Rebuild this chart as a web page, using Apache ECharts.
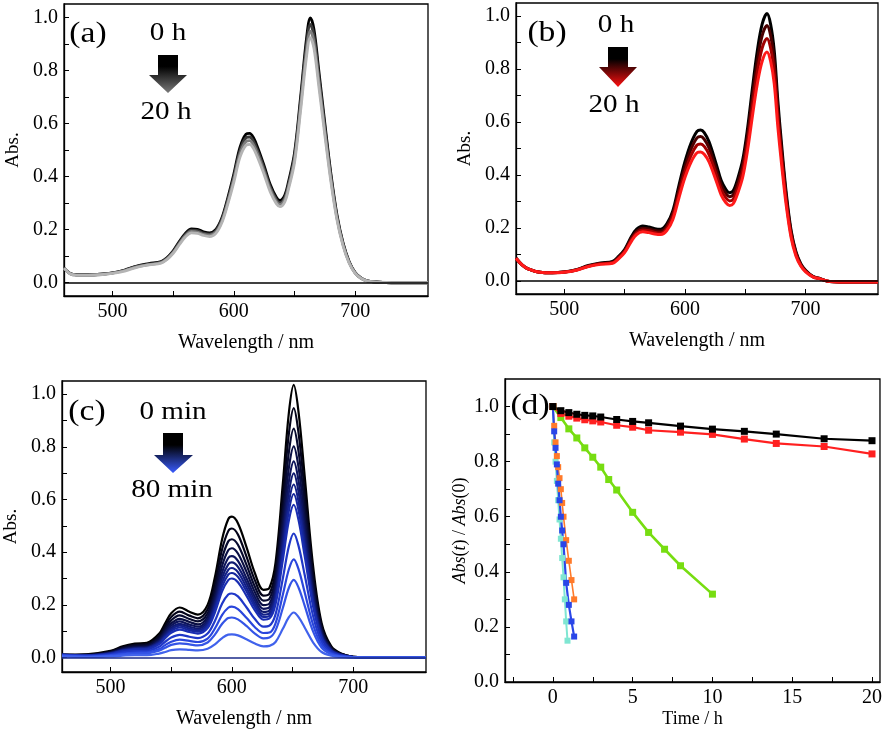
<!DOCTYPE html>
<html>
<head>
<meta charset="utf-8">
<script src="https://cdn.jsdelivr.net/npm/echarts@6/dist/echarts.min.js"></script>
<style>html,body{margin:0;padding:0;background:#fff;}#chart{width:885px;height:734px;}</style>
</head>
<body>
<div id="chart"></div>
<script>
// ---------- Panel (a) ----------
const lambdaA = [460,465,470,480,490,500,510,520,530,540,545,550,555,560,565,570,575,580,585,590,595,600,605,610,613,616,620,625,630,635,638,642,645,650,655,660,663,666,670,675,680,685,690,695,700,705,710,720,730,760];
const absA_0h = [0.055,0.035,0.03,0.03,0.032,0.037,0.048,0.063,0.072,0.08,0.095,0.12,0.155,0.186,0.203,0.201,0.192,0.188,0.2,0.243,0.32,0.41,0.51,0.56,0.563,0.548,0.505,0.44,0.37,0.322,0.31,0.33,0.38,0.49,0.70,0.925,0.998,0.955,0.80,0.60,0.41,0.255,0.15,0.08,0.038,0.017,0.007,0.002,0,0];
const absA_t1 = [0.055,0.035,0.03,0.03,0.032,0.037,0.047,0.062,0.07,0.078,0.093,0.117,0.151,0.181,0.198,0.196,0.187,0.183,0.195,0.237,0.312,0.4,0.497,0.546,0.549,0.534,0.492,0.429,0.361,0.314,0.302,0.322,0.37,0.478,0.683,0.902,0.973,0.931,0.78,0.585,0.4,0.249,0.146,0.078,0.037,0.017,0.007,0.002,0,0];
const absA_t2 = [0.055,0.034,0.029,0.029,0.031,0.036,0.046,0.06,0.068,0.076,0.09,0.114,0.147,0.177,0.193,0.191,0.182,0.179,0.19,0.231,0.304,0.39,0.485,0.532,0.535,0.521,0.48,0.418,0.352,0.306,0.295,0.314,0.361,0.466,0.665,0.879,0.948,0.907,0.76,0.57,0.39,0.242,0.143,0.076,0.036,0.016,0.007,0.002,0,0];
const absA_20h = [0.055,0.034,0.029,0.029,0.03,0.035,0.044,0.058,0.067,0.074,0.088,0.111,0.143,0.172,0.188,0.186,0.178,0.174,0.185,0.225,0.296,0.379,0.472,0.518,0.521,0.507,0.467,0.407,0.342,0.298,0.287,0.305,0.352,0.453,0.648,0.856,0.923,0.883,0.74,0.555,0.379,0.236,0.139,0.074,0.035,0.016,0.006,0.002,0,0];

// ---------- Panel (b) ----------
const lambdaB = [460,465,470,480,490,500,510,520,530,540,545,550,556,560,565,570,575,580,585,590,595,600,605,610,613,616,620,626,630,634,637,640,644,648,652,656,660,664,668,671,674,677,680,684,688,692,696,700,706,712,720,740,760];
const absB_0h = [0.085,0.06,0.045,0.032,0.03,0.033,0.042,0.058,0.067,0.073,0.092,0.118,0.17,0.195,0.207,0.203,0.197,0.195,0.215,0.265,0.36,0.45,0.52,0.565,0.57,0.56,0.525,0.44,0.38,0.345,0.333,0.34,0.39,0.46,0.58,0.73,0.87,0.97,1.01,0.97,0.87,0.68,0.52,0.33,0.19,0.11,0.065,0.04,0.017,0.008,-0.003,-0.005,-0.005];
const absB_t1 = [0.085,0.06,0.045,0.032,0.03,0.033,0.041,0.056,0.065,0.07,0.089,0.114,0.164,0.188,0.199,0.196,0.19,0.188,0.207,0.255,0.344,0.43,0.497,0.54,0.545,0.535,0.502,0.42,0.363,0.33,0.318,0.325,0.373,0.44,0.554,0.698,0.832,0.927,0.965,0.927,0.832,0.65,0.497,0.315,0.182,0.105,0.062,0.038,0.016,0.008,-0.003,-0.005,-0.005];
const absB_t2 = [0.085,0.06,0.045,0.032,0.03,0.033,0.041,0.055,0.064,0.068,0.086,0.11,0.158,0.181,0.192,0.189,0.183,0.181,0.198,0.244,0.328,0.41,0.473,0.513,0.517,0.508,0.477,0.4,0.345,0.313,0.302,0.308,0.354,0.418,0.526,0.662,0.79,0.88,0.916,0.88,0.79,0.617,0.472,0.299,0.172,0.1,0.059,0.036,0.015,0.007,-0.003,-0.005,-0.005];
const absB_20h = [0.085,0.06,0.045,0.032,0.03,0.032,0.04,0.054,0.062,0.066,0.083,0.106,0.152,0.175,0.185,0.182,0.177,0.175,0.19,0.232,0.313,0.39,0.448,0.484,0.487,0.478,0.449,0.376,0.325,0.295,0.285,0.291,0.334,0.394,0.497,0.625,0.745,0.83,0.865,0.83,0.745,0.582,0.445,0.283,0.163,0.094,0.056,0.034,0.015,0.007,-0.003,-0.005,-0.005];

// ---------- Panel (c) ----------
const lambdaC = [460,480,500,510,520,530,540,545,550,557,565,572,580,586,592,597,600,605,612,619,626,631,636,642,647,651,655,660,667,674,682,690,700,720,760];
const absC_0min  = [0.010,0.012,0.025,0.043,0.053,0.056,0.090,0.130,0.168,0.190,0.174,0.163,0.200,0.305,0.450,0.525,0.535,0.510,0.420,0.320,0.257,0.265,0.360,0.660,0.930,1.035,0.930,0.690,0.345,0.130,0.042,0.015,0.003,0,0];
const absC_5min  = [0.01,0.011,0.023,0.039,0.048,0.051,0.082,0.119,0.154,0.174,0.159,0.149,0.183,0.279,0.412,0.48,0.49,0.467,0.384,0.293,0.235,0.242,0.329,0.604,0.851,0.947,0.851,0.631,0.316,0.119,0.038,0.014,0.003,0,0];
const absC_10min = [0.01,0.01,0.021,0.036,0.045,0.047,0.076,0.109,0.141,0.16,0.146,0.137,0.168,0.256,0.378,0.441,0.449,0.428,0.353,0.269,0.216,0.223,0.302,0.554,0.781,0.869,0.781,0.58,0.29,0.109,0.035,0.013,0.003,0,0];
const absC_15min = [0.01,0.009,0.019,0.033,0.041,0.043,0.07,0.101,0.13,0.147,0.135,0.126,0.155,0.236,0.349,0.407,0.415,0.395,0.326,0.248,0.199,0.205,0.279,0.512,0.721,0.802,0.721,0.535,0.267,0.101,0.033,0.012,0.002,0,0];
const absC_20min = [0.01,0.009,0.018,0.031,0.038,0.04,0.065,0.094,0.121,0.137,0.125,0.117,0.144,0.22,0.324,0.378,0.385,0.367,0.302,0.23,0.185,0.191,0.259,0.475,0.67,0.745,0.67,0.497,0.248,0.094,0.03,0.011,0.002,0,0];
const absC_25min = [0.01,0.008,0.017,0.029,0.036,0.038,0.061,0.088,0.113,0.128,0.117,0.11,0.135,0.206,0.304,0.354,0.361,0.344,0.284,0.216,0.173,0.179,0.243,0.446,0.628,0.699,0.628,0.466,0.233,0.088,0.028,0.01,0.002,0,0];
const absC_30min = [0.01,0.008,0.016,0.027,0.034,0.036,0.057,0.083,0.107,0.121,0.11,0.104,0.127,0.194,0.286,0.333,0.34,0.324,0.267,0.203,0.163,0.168,0.229,0.419,0.591,0.657,0.591,0.438,0.219,0.083,0.027,0.01,0.002,0,0];
const absC_35min = [0.01,0.007,0.015,0.026,0.032,0.034,0.054,0.078,0.101,0.114,0.104,0.098,0.12,0.183,0.27,0.315,0.321,0.306,0.252,0.192,0.154,0.159,0.216,0.396,0.558,0.621,0.558,0.414,0.207,0.078,0.025,0.009,0.002,0,0];
const absC_40min = [0.01,0.007,0.014,0.024,0.03,0.031,0.05,0.073,0.094,0.106,0.097,0.091,0.112,0.171,0.252,0.294,0.3,0.286,0.235,0.179,0.144,0.148,0.202,0.37,0.521,0.58,0.521,0.386,0.193,0.073,0.024,0.008,0.002,0,0];
const absC_50min = [0.01,0.006,0.011,0.02,0.024,0.025,0.041,0.059,0.076,0.086,0.079,0.074,0.091,0.139,0.205,0.239,0.243,0.232,0.191,0.146,0.117,0.121,0.164,0.3,0.423,0.471,0.423,0.314,0.157,0.059,0.019,0.007,0.001,0,0];
const absC_60min = [0.008,0.004,0.009,0.015,0.019,0.02,0.032,0.047,0.06,0.068,0.063,0.059,0.072,0.11,0.162,0.189,0.193,0.184,0.151,0.115,0.093,0.095,0.13,0.238,0.335,0.373,0.335,0.248,0.124,0.047,0.015,0.005,0.001,0,0];
const absC_70min = [0.006,0.003,0.007,0.012,0.015,0.016,0.026,0.037,0.048,0.054,0.05,0.046,0.057,0.087,0.128,0.15,0.152,0.145,0.12,0.091,0.073,0.076,0.103,0.188,0.265,0.295,0.265,0.197,0.098,0.037,0.012,0.004,0.001,0,0];
const absC_80min = [0.004,0.002,0.004,0.007,0.009,0.009,0.015,0.021,0.028,0.031,0.029,0.027,0.033,0.05,0.074,0.087,0.088,0.084,0.069,0.053,0.042,0.044,0.059,0.109,0.153,0.171,0.153,0.114,0.057,0.021,0.007,0.002,0,0,0];

// ---------- Panel (d) ----------
const timeLong   = [0,0.5,1,1.5,2,2.5,3,4,5,6,8,10,12,14,17,20];
const ratioBlack = [1.0,0.985,0.978,0.972,0.968,0.966,0.962,0.953,0.946,0.941,0.929,0.918,0.910,0.900,0.883,0.876];
const ratioRed   = [1.0,0.975,0.965,0.958,0.952,0.948,0.944,0.932,0.925,0.914,0.907,0.899,0.882,0.866,0.855,0.828];
const timeGreen  = [0,0.5,1,1.5,2,2.5,3,3.5,4,5,6,7,8,10];
const ratioGreen = [1.0,0.96,0.919,0.886,0.85,0.816,0.78,0.735,0.697,0.616,0.543,0.482,0.422,0.319];
const timeFast   = [0,0.083,0.167,0.25,0.333,0.417,0.5,0.583,0.667,0.833,1.0,1.167,1.333];
const ratioOrange= [1.0,0.93,0.87,0.82,0.78,0.74,0.7,0.65,0.6,0.515,0.44,0.37,0.30];
const ratioBlue  = [1.0,0.91,0.85,0.79,0.72,0.66,0.6,0.55,0.5,0.36,0.28,0.22,0.165];
const timeCyan   = [0,0.083,0.167,0.25,0.333,0.417,0.5,0.583,0.667,0.75,0.833,0.917];
const ratioCyan  = [1.0,0.87,0.8,0.73,0.66,0.59,0.52,0.45,0.38,0.3,0.22,0.15];

// tick label values
const specXLabels = [500,600,700];
const specXTicks = [500,550,600,650,700];
const absYLabels = [0,0.2,0.4,0.6,0.8,1.0];
const absYTicks = [0,0.1,0.2,0.3,0.4,0.5,0.6,0.7,0.8,0.9,1.0];
const timeXLabels = [0,5,10,15,20];
const timeXTicks = [-2.5,0,2.5,5,7.5,10,12.5,15,17.5,20];

const FONT = "'Liberation Serif','Times New Roman',serif";
const zip = (xs, ys) => xs.map((x, i) => [x, ys[i]]);

const grids = [
  {left: 64, top: 4, width: 364, height: 292},
  {left: 516, top: 3, width: 362, height: 291},
  {left: 62, top: 381, width: 364, height: 291},
  {left: 505, top: 379, width: 377, height: 303}
].map(g => Object.assign({show: true, borderColor: '#000', borderWidth: 1.3, backgroundColor: '#fff'}, g));

function xAxisSpec(gi, min, max, labels, ticks, name, gap) {
  return {
    type: 'value', gridIndex: gi, min: min, max: max,
    name: name, nameLocation: 'middle', nameGap: gap,
    nameTextStyle: {fontFamily: FONT, fontSize: 20, color: '#000'},
    axisLine: {show: true, onZero: false, lineStyle: {color: '#000', width: 1.3}},
    axisTick: {show: true, inside: true, length: 5, customValues: ticks, lineStyle: {color: '#000'}},
    axisLabel: {customValues: labels, fontFamily: FONT, fontSize: 20, color: '#000', margin: 6, formatter: v => String(v)},
    splitLine: {show: false}
  };
}
function yAxisSpec(gi, min, max, labels, ticks, name, gap, rich) {
  return {
    type: 'value', gridIndex: gi, min: min, max: max,
    name: name, nameLocation: 'middle', nameGap: gap, nameRotate: 90,
    nameTextStyle: {fontFamily: FONT, fontSize: rich ? 18 : 19, color: '#000', rich: rich},
    axisLine: {show: true, onZero: false, lineStyle: {color: '#000', width: 1.3}},
    axisTick: {show: true, inside: true, length: 5, customValues: ticks, lineStyle: {color: '#000'}},
    axisLabel: {customValues: labels, fontFamily: FONT, fontSize: 20, color: '#000', margin: 6, formatter: v => v.toFixed(1)},
    splitLine: {show: false}
  };
}

const xAxes = [
  xAxisSpec(0, 460, 760, specXLabels, specXTicks, 'Wavelength / nm', 37),
  xAxisSpec(1, 460, 760, specXLabels, specXTicks, 'Wavelength / nm', 37),
  xAxisSpec(2, 460, 760, specXLabels, specXTicks, 'Wavelength / nm', 37),
  xAxisSpec(3, -3, 20.5, timeXLabels, timeXTicks, 'Time / h', 28)
];
xAxes[3].nameTextStyle.fontSize = 18;
const yAxes = [
  yAxisSpec(0, -0.05, 1.05, absYLabels, absYTicks, 'Abs.', 41),
  yAxisSpec(1, -0.05, 1.05, absYLabels, absYTicks, 'Abs.', 41),
  yAxisSpec(2, -0.055, 1.05, absYLabels, absYTicks, 'Abs.', 41),
  yAxisSpec(3, 0, 1.1, absYLabels, absYTicks, '{i|Abs}({i|t}) / {i|Abs}(0)', 36,
    {i: {fontFamily: FONT, fontSize: 18, fontStyle: 'italic', color: '#000'}})
];

const series = [];
function spec(gi, xs, ys, color, width, base) {
  const s = {
    type: 'line', xAxisIndex: gi, yAxisIndex: gi, data: zip(xs, ys),
    smooth: 0.35, showSymbol: false, symbol: 'none',
    lineStyle: {color: color, width: width}, silent: true, animation: false, z: 3
  };
  if (base) {
    s.markLine = {silent: true, symbol: 'none', label: {show: false},
      lineStyle: {color: base, width: 1.5, type: 'solid'}, data: [{yAxis: 0}], animation: false};
  }
  series.push(s);
}
// (a)
spec(0, lambdaA, absA_0h, '#000000', 2.8, '#000');
spec(0, lambdaA, absA_t1, '#3c3c3c', 2.8);
spec(0, lambdaA, absA_t2, '#7d7d7d', 2.8);
spec(0, lambdaA, absA_20h, '#b4b4b4', 2.8);
// (b)
spec(1, lambdaB, absB_0h, '#000000', 3, '#000');
spec(1, lambdaB, absB_t1, '#4a0000', 3);
spec(1, lambdaB, absB_t2, '#a00000', 3);
spec(1, lambdaB, absB_20h, '#ff1a1a', 3);
// (c)
const cSets = [absC_0min, absC_5min, absC_10min, absC_15min, absC_20min, absC_25min, absC_30min, absC_35min, absC_40min, absC_50min, absC_60min, absC_70min, absC_80min];
const cColors = ['#000000','#04041a','#070a2e','#0a0f44','#0d145a','#101a70','#132086','#16279c','#1a2eb2','#2038c8','#2a46dc','#3454e6','#4062ec'];
cSets.forEach((arr, i) => spec(2, lambdaC, arr, cColors[i], 2.2, i === 0 ? '#1a2a88' : null));
// (d)
function kin(xs, ys, color, lw, sym) {
  series.push({
    type: 'line', xAxisIndex: 3, yAxisIndex: 3, data: zip(xs, ys),
    symbol: 'rect', symbolSize: sym, showSymbol: true,
    lineStyle: {color: color, width: lw}, itemStyle: {color: color},
    silent: true, animation: false, z: 3
  });
}
kin(timeCyan, ratioCyan, '#7fe6d2', 2, 6);
kin(timeFast, ratioOrange, '#ff7a2a', 1.6, 6);
kin(timeFast, ratioBlue, '#2a46e8', 2.2, 6);
kin(timeGreen, ratioGreen, '#77dd11', 2.6, 7);
kin(timeLong, ratioRed, '#ff2020', 2.2, 7);
kin(timeLong, ratioBlack, '#000000', 2.2, 7);

function label(x, y, text, size, sx) {
  return {type: 'text', x: x, y: y, scaleX: sx || 1.12, z: 50,
    style: {text: text, fontFamily: FONT, fontSize: size, fill: '#000', align: 'center', verticalAlign: 'middle'}};
}
function arrow(pts, c1, c2) {
  return {type: 'polygon', z: 50, shape: {points: pts},
    style: {fill: new echarts.graphic.LinearGradient(0, 0, 0, 1, [{offset: 0, color: c1}, {offset: 0.3, color: c1}, {offset: 1, color: c2}])}};
}
const graphics = [
  label(88, 34, '(a)', 30), label(168, 33, '0 h', 26), label(166, 112, '20 h', 26),
  arrow([[158,55],[178,55],[178,75],[187,75],[168,93],[149,75],[158,75]], '#000', '#7a7a7a'),
  label(547, 33, '(b)', 30), label(616, 25, '0 h', 26), label(614, 105, '20 h', 26),
  arrow([[608,47],[628,47],[628,67],[637,67],[618,87],[599,67],[608,67]], '#000', '#ff1010'),
  label(87, 412, '(c)', 30), label(173, 412, '0 min', 26), label(172, 490, '80 min', 26),
  arrow([[163,433],[183,433],[183,455],[193,455],[173,473],[154,455],[163,455]], '#000', '#3a5cff'),
  label(530, 406, '(d)', 30)
];

const chart = echarts.init(document.getElementById('chart'), null, {renderer: 'canvas'});
chart.setOption({
  animation: false,
  backgroundColor: '#fff',
  grid: grids,
  xAxis: xAxes,
  yAxis: yAxes,
  series: series,
  graphic: graphics
});
</script>
</body>
</html>
